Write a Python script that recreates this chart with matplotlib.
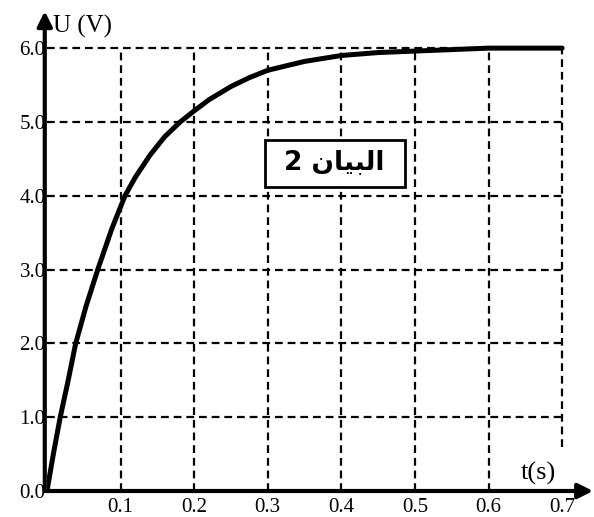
import matplotlib
matplotlib.use("Agg")
import matplotlib.pyplot as plt
from matplotlib.patches import Rectangle

# values
t_vals = [0, 0.009, 0.018, 0.028, 0.039, 0.053, 0.069, 0.088, 0.106, 0.12, 0.14,
          0.16, 0.181, 0.2, 0.22, 0.25, 0.275, 0.3, 0.35, 0.4, 0.45, 0.5, 0.55, 0.6, 0.65, 0.7]
u_vals = [0, 0.52, 1.0, 1.46, 2.0, 2.5, 3.0, 3.55, 4.0, 4.25, 4.55,
          4.8, 5.0, 5.15, 5.3, 5.48, 5.6, 5.7, 5.82, 5.9, 5.94, 5.96, 5.98, 6.0, 6.0, 6.0]

x_ticks = [0.1, 0.2, 0.3, 0.4, 0.5, 0.6, 0.7]
x_labels = ["0.1", "0.2", "0.3", "0.4", "0.5", "0.6", "0.7"]
y_ticks = [0, 1, 2, 3, 4, 5, 6]
y_labels = ["0.0", "1.0", "2.0", "3.0", "4.0", "5.0", "6.0"]

# "البيان 2" pre-shaped (presentation forms, visual order) since matplotlib has no bidi
box_text = "2 \ufee5\ufe8e\ufef4\ufe92\ufedf\ufe8d"

serif = "Liberation Serif"

fig = plt.figure(figsize=(5.94, 5.17), dpi=100)
ax = fig.add_axes([0.0791, 0.0503, 0.923, 0.928])
ax.set_xlim(0, 0.745)
ax.set_ylim(0, 6.5)
for s in ax.spines.values():
    s.set_visible(False)

# dashed grid
dash = (0, (3.5, 2.2))
for x in x_ticks[:-1]:
    ax.vlines(x, 0, 6, colors="black", lw=1.6, linestyles=[dash], zorder=1)
ax.vlines(0.7, 0.6, 6, colors="black", lw=1.6, linestyles=[dash], zorder=1)
for y in y_ticks[1:]:
    ax.hlines(y, 0, 0.7, colors="black", lw=1.6, linestyles=[dash], zorder=1)

# axes with arrow heads
ax.annotate("", xy=(0.742, 0), xytext=(-0.003, 0),
            arrowprops=dict(arrowstyle="-|>", lw=3, color="black", mutation_scale=22,
                            shrinkA=0, shrinkB=0),
            annotation_clip=False, zorder=4)
ax.annotate("", xy=(-0.003, 6.5), xytext=(-0.003, 0),
            arrowprops=dict(arrowstyle="-|>", lw=3, color="black", mutation_scale=22,
                            shrinkA=0, shrinkB=0),
            annotation_clip=False, zorder=4)

ax.plot(t_vals, u_vals, color="black", lw=3.6, solid_joinstyle="round",
        solid_capstyle="round", zorder=3)

ax.set_xticks(x_ticks, labels=x_labels)
ax.set_yticks(y_ticks, labels=y_labels)
ax.tick_params(length=0, labelsize=15)
ax.tick_params(axis="x", pad=5)
ax.tick_params(axis="y", pad=1)
for lab in ax.get_xticklabels() + ax.get_yticklabels():
    lab.set_fontfamily(serif)

ax.text(0.008, 6.29, "U (V)", family=serif, fontsize=18, ha="left", va="center")
ax.text(0.667, 0.24, "t(s)", family=serif, fontsize=19, ha="center", va="center")

ax.add_patch(Rectangle((0.296, 4.12), 0.19, 0.64, facecolor="white",
                       edgecolor="black", lw=2, zorder=5))
ax.text(0.39, 4.45, box_text, family=["DejaVu Sans", "Noto Sans"], fontweight="bold",
        fontsize=19, ha="center", va="center", zorder=6)

fig.savefig("out.png", dpi=100)
